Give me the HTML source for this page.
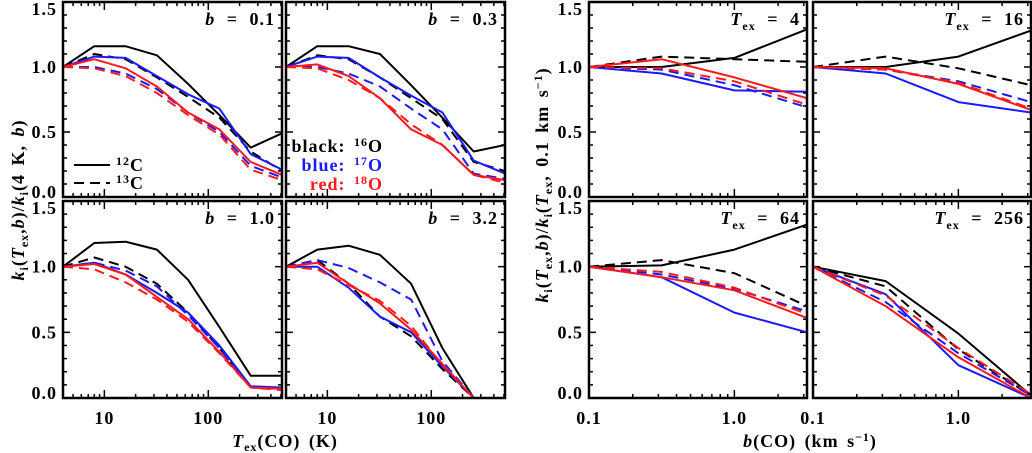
<!DOCTYPE html>
<html><head><meta charset="utf-8"><style>
body{margin:0;background:#fff;}
svg{display:block;font-family:"Liberation Serif",serif;}
.tl{font-size:18px;font-weight:bold;fill:#000;letter-spacing:1px;word-spacing:6px;}
</style></head><body>
<svg id="c" width="1032" height="453" viewBox="0 0 1032 453" xmlns="http://www.w3.org/2000/svg"></svg>
<script>
// ---- data ----
const texValues = [4, 8, 16, 32, 64, 128, 256, 512];
const bValues = [0.1, 0.316, 1.0, 3.16];
const yTicks = [0.0, 0.5, 1.0, 1.5];
const yTickLabels = ["0.0", "0.5", "1.0", "1.5"];
const texTickLabels = ["10", "100"];
const texTickVals = [10, 100];
const bTickLabels = ["0.1", "1.0"];
const bTickVals = [0.1, 1.0];
const leftPanelLabels = ["0.1", "0.3", "1.0", "3.2"];
const rightPanelLabels = ["4", "16", "64", "256"];
// series order: 16O solid,16O dashed,17O solid,17O dashed,18O solid,18O dashed
const leftB01 = [
 [1.0,1.16,1.16,1.09,0.87,0.63,0.38,0.49],
 [1.0,1.10,1.06,0.92,0.77,0.61,0.35,0.20],
 [1.0,1.08,1.07,0.93,0.79,0.68,0.33,0.21],
 [1.0,1.00,0.95,0.83,0.65,0.50,0.24,0.15],
 [1.0,1.06,0.99,0.85,0.65,0.52,0.27,0.17],
 [1.0,0.99,0.93,0.80,0.63,0.48,0.21,0.13]];
const leftB03 = [
 [1.0,1.16,1.16,1.10,0.86,0.61,0.35,0.40],
 [1.0,1.09,1.06,0.92,0.76,0.60,0.27,0.20],
 [1.0,1.08,1.07,0.92,0.78,0.65,0.28,0.18],
 [1.0,1.00,0.95,0.85,0.68,0.52,0.18,0.14],
 [1.0,1.02,0.93,0.76,0.52,0.40,0.17,0.13],
 [1.0,0.99,0.90,0.76,0.56,0.40,0.17,0.11]];
const leftB10 = [
 [1.0,1.18,1.19,1.13,0.90,0.54,0.17,0.17],
 [1.0,1.07,1.00,0.87,0.65,0.38,0.08,0.07],
 [1.0,1.03,0.94,0.80,0.65,0.40,0.09,0.08],
 [1.0,1.03,0.97,0.85,0.63,0.38,0.08,0.07],
 [1.0,1.02,0.94,0.77,0.60,0.35,0.08,0.07],
 [1.0,0.98,0.88,0.75,0.58,0.34,0.08,0.06]];
const leftB32 = [
 [1.0,1.13,1.16,1.09,0.87,0.38,0.0,0.0],
 [1.0,1.05,0.87,0.62,0.47,0.22,0.0,0.0],
 [1.0,1.00,0.84,0.62,0.50,0.24,0.0,0.0],
 [1.0,1.05,0.99,0.88,0.75,0.28,0.0,0.0],
 [1.0,1.03,0.87,0.72,0.52,0.26,0.0,0.0],
 [1.0,0.98,0.86,0.74,0.55,0.25,0.0,0.0]];
const rightT4 = [
 [1.0,1.00,1.07,1.29],[1.0,1.08,1.06,1.04],
 [1.0,0.95,0.82,0.81],[1.0,0.98,0.86,0.69],
 [1.0,1.06,0.92,0.76],[1.0,0.99,0.89,0.71]];
const rightT16 = [
 [1.0,1.00,1.08,1.28],[1.0,1.08,0.99,0.86],
 [1.0,0.95,0.73,0.65],[1.0,0.98,0.89,0.73],
 [1.0,0.99,0.87,0.67],[1.0,0.98,0.88,0.68]];
const rightT64 = [
 [1.0,1.01,1.13,1.32],[1.0,1.05,0.95,0.70],
 [1.0,0.92,0.65,0.50],[1.0,0.94,0.83,0.66],
 [1.0,0.92,0.82,0.61],[1.0,0.96,0.84,0.64]];
const rightT256 = [
 [1.0,0.89,0.49,0.02],[1.0,0.85,0.37,0.02],
 [1.0,0.79,0.25,0.0],[1.0,0.73,0.34,0.02],
 [1.0,0.70,0.31,0.0],[1.0,0.78,0.38,0.03]];
const seriesNames = ["16O-12C","16O-13C","17O-12C","17O-13C","18O-12C","18O-13C"];
const seriesColors = ["#000","#000","#1a1aff","#1a1aff","#ff1a1a","#ff1a1a"];
const seriesDash = [false,true,false,true,false,true];

const NS="http://www.w3.org/2000/svg";
const svg=document.getElementById('c');
function mk(tag,attrs,parent){const e=document.createElementNS(NS,tag);for(const k in attrs)e.setAttribute(k,attrs[k]);(parent||svg).appendChild(e);return e;}

const rows=[{top:2,bot:197},{top:201,bot:398}];
const panels=[
 {x0:63,x1:282,row:0,data:leftB01,xs:texValues,xmin:4,xmax:512,lab:leftPanelLabels[0],kind:'b'},
 {x0:286,x1:505,row:0,data:leftB03,xs:texValues,xmin:4,xmax:512,lab:leftPanelLabels[1],kind:'b'},
 {x0:63,x1:282,row:1,data:leftB10,xs:texValues,xmin:4,xmax:512,lab:leftPanelLabels[2],kind:'b'},
 {x0:286,x1:505,row:1,data:leftB32,xs:texValues,xmin:4,xmax:512,lab:leftPanelLabels[3],kind:'b'},
 {x0:589,x1:807,row:0,data:rightT4,xs:bValues,xmin:0.1,xmax:3.16,lab:rightPanelLabels[0],kind:'t'},
 {x0:813,x1:1031,row:0,data:rightT16,xs:bValues,xmin:0.1,xmax:3.16,lab:rightPanelLabels[1],kind:'t'},
 {x0:589,x1:807,row:1,data:rightT64,xs:bValues,xmin:0.1,xmax:3.16,lab:rightPanelLabels[2],kind:'t'},
 {x0:813,x1:1031,row:1,data:rightT256,xs:bValues,xmin:0.1,xmax:3.16,lab:rightPanelLabels[3],kind:'t'}];

panels.forEach((p,pi)=>{
  const r=rows[p.row];
  const X=v=>p.x0+(Math.log10(v)-Math.log10(p.xmin))/(Math.log10(p.xmax)-Math.log10(p.xmin))*(p.x1-p.x0);
  const Y=v=>r.bot-v*(r.bot-r.top)/1.5;
  const g=mk('g',{});
  
  
  for(let i=0;i<=15;i++){const v=i/10;const len=(i%5==0)?7:4;const y=Y(v);
    mk('line',{x1:p.x0,x2:p.x0+len,y1:y,y2:y,stroke:'#000','stroke-width':1.5},g);
    mk('line',{x1:p.x1,x2:p.x1-len,y1:y,y2:y,stroke:'#000','stroke-width':1.5},g);}
  let dec=Math.floor(Math.log10(p.xmin));
  for(let d=dec;d<=Math.ceil(Math.log10(p.xmax));d++){for(let m=1;m<10;m++){const v=m*Math.pow(10,d);
    if(v<p.xmin*0.999||v>p.xmax*1.001)continue;const x=X(v);const len=m==1?8:4;
    mk('line',{x1:x,x2:x,y1:r.bot,y2:r.bot-len,stroke:'#000','stroke-width':1.5},g);
    mk('line',{x1:x,x2:x,y1:r.top,y2:r.top+len,stroke:'#000','stroke-width':1.5},g);}}
  p.data.forEach((s,si)=>{
    const pts=s.map((v,i)=>X(p.xs[i]).toFixed(1)+','+Y(v).toFixed(1)).join(' ');
    const pl=mk('polyline',{points:pts,fill:'none',stroke:seriesColors[si],'stroke-width':2,'stroke-linejoin':'round'},g);
    if(seriesDash[si])pl.setAttribute('stroke-dasharray','10,6');
    
    
  });
  mk('rect',{x:p.x0,y:r.top,width:p.x1-p.x0,height:r.bot-r.top,fill:'none',stroke:'#000','stroke-width':2.5},g);
  const t=mk('text',{x:p.x1-7,y:r.top+23,'text-anchor':'end',class:'tl'},g);
  
  
  if(p.kind=='b'){t.innerHTML='<tspan font-style="italic">b</tspan> = '+p.lab;}
  else{t.innerHTML='<tspan font-style="italic">T</tspan><tspan font-size="12" dy="5">ex</tspan><tspan dy="-5"> = '+p.lab+'</tspan>';}
  if(pi==0||pi==2||pi==4||pi==6){
    yTicks.forEach((v,i)=>{const off=v==0?1:(v==1.5?13:6);
      const tt=mk('text',{x:p.x0-6,y:Y(v)+off,'text-anchor':'end',class:'tl'},g);tt.textContent=yTickLabels[i];
      
      });
  }
  if(p.row==1){
    const vals=p.kind=='b'?texTickVals:bTickVals, labs=p.kind=='b'?texTickLabels:bTickLabels;
    vals.forEach((v,i)=>{const tt=mk('text',{x:X(v),y:424,'text-anchor':'middle',class:'tl'},g);tt.textContent=labs[i];
      
      });
  }
});
</script>
<svg style="position:absolute;left:0;top:0" width="1032" height="453">
 <g font-family="Liberation Serif, serif" font-weight="bold" font-size="18" letter-spacing="1" word-spacing="3">
  <line x1="74" y1="165" x2="110" y2="165" stroke="#000" stroke-width="2"/>
  <line x1="74" y1="183" x2="110" y2="183" stroke="#000" stroke-width="2" stroke-dasharray="10,6"/>
  <text x="116" y="171"><tspan font-size="12" dy="-6">12</tspan><tspan dy="6">C</tspan></text>
  <text x="116" y="189"><tspan font-size="12" dy="-6">13</tspan><tspan dy="6">C</tspan></text>
  <text x="383" y="152" text-anchor="end" fill="#000">black: <tspan font-size="12" dy="-6">16</tspan><tspan dy="6">O</tspan></text>
  <text x="383" y="171" text-anchor="end" fill="#1a1aff">blue: <tspan font-size="12" dy="-6">17</tspan><tspan dy="6">O</tspan></text>
  <text x="383" y="190" text-anchor="end" fill="#ff1a1a">red: <tspan font-size="12" dy="-6">18</tspan><tspan dy="6">O</tspan></text>
  <text x="285" y="447" text-anchor="middle"><tspan font-style="italic">T</tspan><tspan font-size="12" dy="4">ex</tspan><tspan dy="-4">(CO) (K)</tspan></text>
  <text x="810" y="447" text-anchor="middle"><tspan font-style="italic">b</tspan>(CO) (km s<tspan font-size="12" dy="-6">−1</tspan><tspan dy="6">)</tspan></text>
  <text transform="translate(24,200) rotate(-90)" text-anchor="middle"><tspan font-style="italic">k</tspan><tspan font-size="12" dy="4">i</tspan><tspan dy="-4">(</tspan><tspan font-style="italic">T</tspan><tspan font-size="12" dy="4">ex</tspan><tspan dy="-4">,</tspan><tspan font-style="italic">b</tspan>)/<tspan font-style="italic">k</tspan><tspan font-size="12" dy="4">i</tspan><tspan dy="-4">(4 K, </tspan><tspan font-style="italic">b</tspan>)</text>
  <text transform="translate(548,185) rotate(-90)" text-anchor="middle"><tspan font-style="italic">k</tspan><tspan font-size="12" dy="4">i</tspan><tspan dy="-4">(</tspan><tspan font-style="italic">T</tspan><tspan font-size="12" dy="4">ex</tspan><tspan dy="-4">,</tspan><tspan font-style="italic">b</tspan>)/<tspan font-style="italic">k</tspan><tspan font-size="12" dy="4">i</tspan><tspan dy="-4">(</tspan><tspan font-style="italic">T</tspan><tspan font-size="12" dy="4">ex</tspan><tspan dy="-4">, 0.1 km s</tspan><tspan font-size="12" dy="-6">−1</tspan><tspan dy="6">)</tspan></text>
 </g>
</svg>
</body></html>
